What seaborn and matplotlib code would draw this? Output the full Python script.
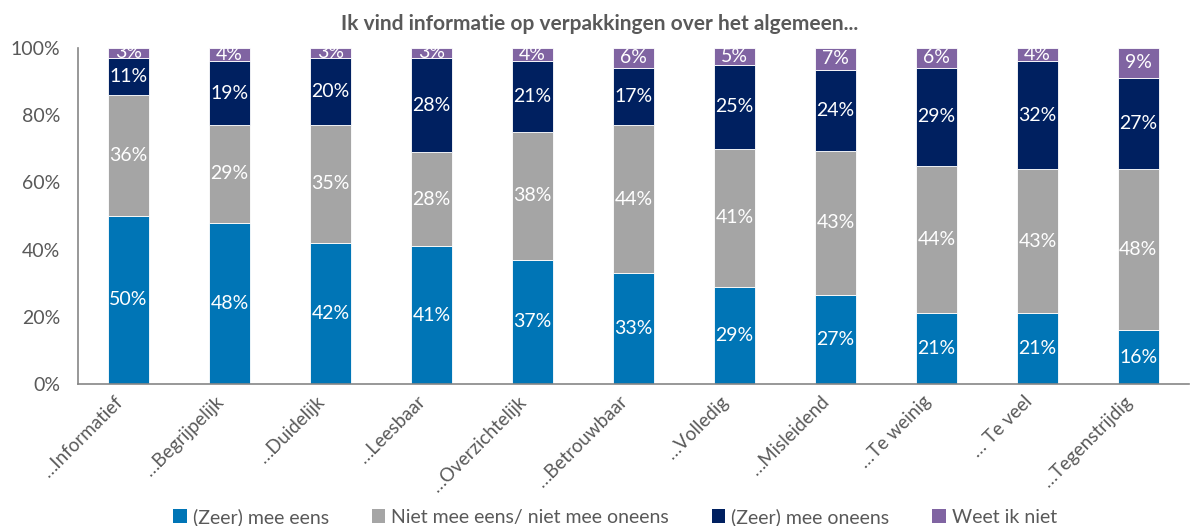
import numpy as np
import pandas as pd
import matplotlib
matplotlib.use('Agg')
import matplotlib.pyplot as plt
import matplotlib.transforms as mtrans
import seaborn as sns
from matplotlib.patches import Patch

# ── data ────────────────────────────────────────────────────────────────
categories = ['…Informatief', '…Begrijpelijk', '…Duidelijk', '…Leesbaar',
              '…Overzichtelijk', '…Betrouwbaar', '…Volledig', '…Misleidend',
              '…Te weinig', '… Te veel', '…Tegenstrijdig']
series = ['(Zeer) mee eens', 'Niet mee eens/ niet mee oneens',
          '(Zeer) mee oneens', 'Weet ik niet']
mee_eens     = [50, 48, 42, 41, 37, 33, 29, 26.6, 21, 21, 16]
neutraal     = [36, 29, 35, 28, 38, 44, 41, 42.7, 44, 43, 48]
mee_oneens   = [11, 19, 20, 28, 21, 17, 25, 24.1, 29, 32, 27]
weet_ik_niet = [3, 4, 3, 3, 4, 6, 5, 6.6, 6, 4, 9]

colors = ['#0075B6', '#A5A5A5', '#002060', '#8064A2']
TEXT = '#595959'

sns.set_theme(style='white')
plt.rcParams['font.family'] = ['Lato', 'DejaVu Sans']

fig = plt.figure(figsize=(11.92, 5.26), dpi=100)
ax = fig.add_axes([0.0654, 0.27, 0.932, 0.639])

# stacked bars, one layer per answer
bottom = np.zeros(len(categories))
for vals, col in zip([mee_eens, neutraal, mee_oneens, weet_ik_niet], colors):
    vals = np.array(vals, dtype=float)
    sns.barplot(x=categories, y=vals, bottom=bottom, color=col, saturation=1,
                width=0.4, edgecolor='white', linewidth=0.6, ax=ax)
    cont = ax.containers[-1]
    ax.bar_label(cont, labels=[f'{round(v)}%' for v in vals], label_type='center',
                 color='white', fontsize=14)
    bottom += vals

ax.set_ylim(0, 100)
ax.set_xlim(-0.5, len(categories) - 0.5)
ax.set_yticks(range(0, 101, 20))
ax.set_yticklabels([f'{t}%' for t in range(0, 101, 20)], color=TEXT, fontsize=14)
ax.tick_params(axis='y', length=0, pad=13)
ax.tick_params(axis='x', length=0, pad=6)
ax.set_xticks(range(len(categories)))
ax.set_xticklabels(categories, rotation=45, ha='right', rotation_mode='anchor',
                   color=TEXT, fontsize=13.5)
shift = mtrans.ScaledTranslation(-14 / 100, 0, fig.dpi_scale_trans)
for lbl in ax.get_xticklabels():
    lbl.set_transform(lbl.get_transform() + shift)
ax.set_xlabel('')
ax.set_ylabel('')
for side in ('top', 'right'):
    ax.spines[side].set_visible(False)
for side in ('left', 'bottom'):
    ax.spines[side].set_color('#868686')
    ax.spines[side].set_linewidth(1.2)

fig.text(0.503, 0.955, 'Ik vind informatie op verpakkingen over het algemeen...',
         ha='center', va='center', fontsize=15, fontweight='bold', color=TEXT)

handles = [Patch(facecolor=c, edgecolor='none') for c in colors]
fig.legend(handles, series, loc='center', bbox_to_anchor=(0.516, 0.017), ncol=4,
           frameon=False, fontsize=14, handlelength=0.7, handleheight=0.7,
           handletextpad=0.3, columnspacing=2.2, labelcolor=TEXT)

plt.savefig('out.png', dpi=100)
plt.close()
